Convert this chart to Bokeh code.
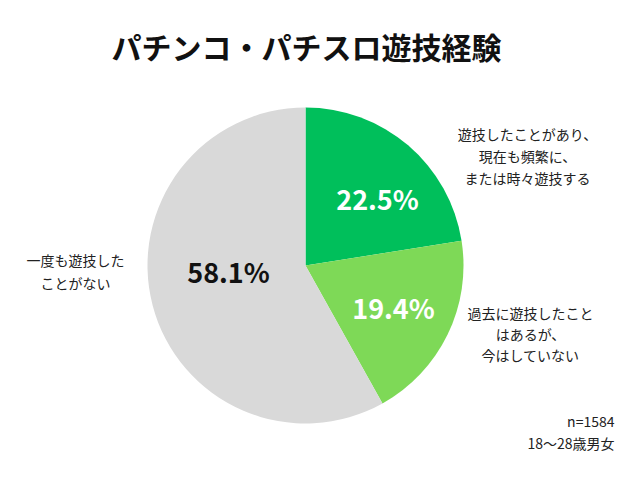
import numpy as np
from bokeh.plotting import figure
from bokeh.models import Range1d, ColumnDataSource
from bokeh.core.properties import value
from bokeh.embed import file_html
from bokeh.resources import INLINE

# ---- data ----
title = "パチンコ・パチスロ遊技経験"
categories = ["頻繁に・時々遊技", "過去に遊技", "遊技したことがない"]
shares = [22.5, 19.4, 58.1]
pct_labels = ["22.5%", "19.4%", "58.1%"]
cat_labels = [
    ["遊技したことがあり、", "現在も頻繁に、", "または時々遊技する"],
    ["過去に遊技したこと", "はあるが、", "今はしていない"],
    ["一度も遊技した", "ことがない"],
]
note_lines = ["n=1584", "18〜28歳男女"]

# ---- style / layout ----
W, H = 640, 483
colors = ["#00BF5B", "#7ED957", "#D9D9D9"]
pct_colors = ["white", "white", "#111111"]
JP = "Noto Sans CJK JP"

cx, cy, R = 305, H - 265, 158

p = figure(width=W, height=H, output_backend="svg", toolbar_location=None,
           x_range=Range1d(0, W), y_range=Range1d(0, H), min_border=0)
p.axis.visible = False
p.grid.visible = False
p.outline_line_color = None
p.background_fill_color = "white"
p.border_fill_color = "white"

vals = np.array(shares, dtype=float)
frac = vals / vals.sum()
ends = np.pi / 2 - 2 * np.pi * np.cumsum(frac)
starts = np.concatenate([[np.pi / 2], ends[:-1]])
src = ColumnDataSource(dict(start=starts, end=ends, color=colors))
p.wedge(x=cx, y=cy, radius=R, start_angle="start", end_angle="end",
        direction="clock", fill_color="color", line_color="white",
        line_width=0, line_alpha=0, source=src)

# percent labels (positions are layout)
pct_pos = [(377, 198), (393, 307), (228, 271)]
for (px, py), t, c in zip(pct_pos, pct_labels, pct_colors):
    p.text(x=[px], y=[H - py], text=[t], text_color=c, text_font=value(JP),
           text_font_style="bold", text_font_size="27px",
           text_align="center", text_baseline="middle")

# category labels
cat_pos = [(527, [133, 155, 177]), (530, [312, 333, 354]), (75, [259, 282])]
for (px, ys), lines in zip(cat_pos, cat_labels):
    for yy, t in zip(ys, lines):
        p.text(x=[px], y=[H - yy], text=[t], text_color="#222222",
               text_font=value(JP), text_font_size="14px",
               text_align="center", text_baseline="middle")

# title
p.text(x=[306], y=[H - 45], text=[title], text_color="#111111",
       text_font=value(JP), text_font_style="bold", text_font_size="30px",
       text_align="center", text_baseline="middle")

# note
for yy, t in zip([420, 442], note_lines):
    p.text(x=[614], y=[H - yy], text=[t], text_color="#222222",
           text_font=value(JP), text_font_size="14px",
           text_align="right", text_baseline="middle")

open("out.html", "w").write(file_html(p, INLINE))
